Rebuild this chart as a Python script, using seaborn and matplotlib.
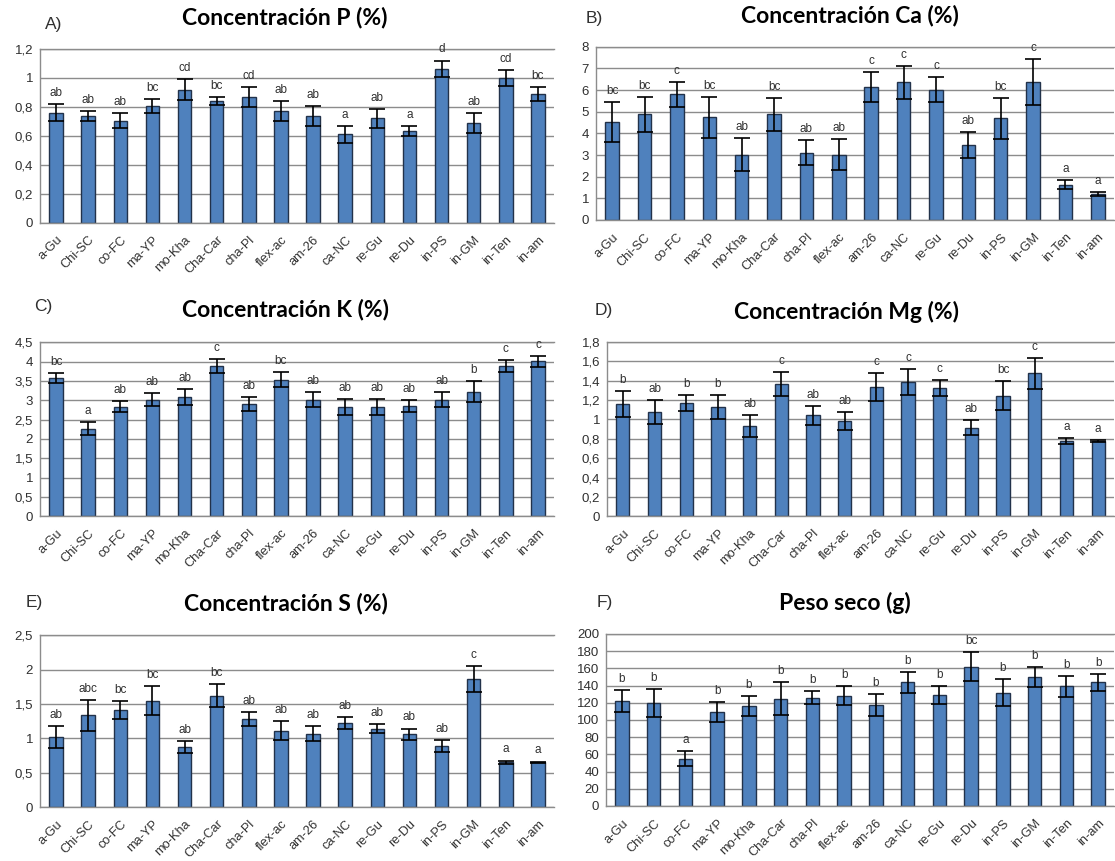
import numpy as np
import matplotlib
matplotlib.use("Agg")
import matplotlib.pyplot as plt
from matplotlib.ticker import FuncFormatter
import seaborn as sns

# Treatments (x axis, shared by every panel)
categories = ["a-Gu", "Chi-SC", "co-FC", "ma-YP", "mo-Kha", "Cha-Car", "cha-Pl", "flex-ac",
              "am-26", "ca-NC", "re-Gu", "re-Du", "in-PS", "in-GM", "in-Ten", "in-am"]

# A) phosphorus concentration (%)
p_mean = [0.76, 0.735, 0.705, 0.805, 0.92, 0.84, 0.87, 0.77, 0.735, 0.61, 0.72, 0.633, 1.065, 0.69, 1.0, 0.892]
p_err = [0.057, 0.035, 0.05, 0.05, 0.075, 0.03, 0.07, 0.07, 0.07, 0.058, 0.065, 0.037, 0.055, 0.07, 0.053, 0.048]
p_letters = ["ab", "ab", "ab", "bc", "cd", "bc", "cd", "ab", "ab", "a", "ab", "a", "d", "ab", "cd", "bc"]

# B) calcium concentration (%)
ca_mean = [4.54, 4.88, 5.80, 4.74, 3.01, 4.88, 3.10, 3.01, 6.12, 6.36, 6.02, 3.46, 4.69, 6.36, 1.62, 1.21]
ca_err = [0.92, 0.81, 0.57, 0.95, 0.77, 0.76, 0.58, 0.72, 0.69, 0.76, 0.57, 0.60, 0.95, 1.06, 0.21, 0.09]
ca_letters = ["bc", "bc", "c", "bc", "ab", "bc", "ab", "ab", "c", "c", "c", "ab", "bc", "c", "a", "a"]

# C) potassium concentration (%)
k_mean = [3.58, 2.26, 2.83, 3.02, 3.09, 3.89, 2.91, 3.53, 3.02, 2.83, 2.83, 2.85, 3.02, 3.22, 3.89, 4.01]
k_err = [0.12, 0.17, 0.14, 0.16, 0.21, 0.18, 0.18, 0.19, 0.19, 0.21, 0.21, 0.16, 0.19, 0.27, 0.15, 0.14]
k_letters = ["bc", "a", "ab", "ab", "ab", "c", "ab", "bc", "ab", "ab", "ab", "ab", "ab", "b", "c", "c"]

# D) magnesium concentration (%)
mg_mean = [1.163, 1.077, 1.173, 1.129, 0.929, 1.366, 1.043, 0.984, 1.335, 1.39, 1.325, 0.915, 1.246, 1.476, 0.778, 0.778]
mg_err = [0.134, 0.124, 0.083, 0.127, 0.114, 0.127, 0.10, 0.093, 0.141, 0.134, 0.082, 0.076, 0.151, 0.159, 0.028, 0.01]
mg_letters = ["b", "ab", "b", "b", "ab", "c", "ab", "ab", "c", "c", "c", "ab", "bc", "c", "a", "a"]

# E) sulphur concentration (%)
s_mean = [1.017, 1.334, 1.411, 1.545, 0.873, 1.622, 1.276, 1.113, 1.07, 1.219, 1.142, 1.056, 0.888, 1.867, 0.653, 0.648]
s_err = [0.16, 0.226, 0.134, 0.21, 0.086, 0.173, 0.10, 0.144, 0.106, 0.086, 0.062, 0.086, 0.086, 0.187, 0.024, 0.014]
s_letters = ["ab", "abc", "bc", "bc", "ab", "bc", "ab", "ab", "ab", "ab", "ab", "ab", "ab", "c", "a", "a"]

# F) dry weight (g)
dw_mean = [122.2, 119.9, 55.2, 109.2, 116.5, 124.9, 126.1, 128.4, 117.6, 143.7, 129.1, 161.7, 131.8, 149.8, 139.1, 143.7]
dw_err = [13.0, 16.5, 8.4, 11.9, 11.5, 19.5, 8.0, 10.7, 12.7, 11.9, 10.4, 16.8, 15.3, 11.5, 11.9, 9.6]
dw_letters = ["b", "b", "a", "b", "b", "b", "b", "b", "b", "b", "b", "bc", "b", "b", "b", "b"]

titles = ["Concentración P (%)", "Concentración Ca (%)", "Concentración K (%)",
          "Concentración Mg (%)", "Concentración S (%)", "Peso seco (g)"]
tags = ["A)", "B)", "C)", "D)", "E)", "F)"]
y_max = [1.2, 8, 4.5, 1.8, 2.5, 200]
y_step = [0.2, 1, 0.5, 0.2, 0.5, 20]

panels = [
    (p_mean, p_err, p_letters),
    (ca_mean, ca_err, ca_letters),
    (k_mean, k_err, k_letters),
    (mg_mean, mg_err, mg_letters),
    (s_mean, s_err, s_letters),
    (dw_mean, dw_err, dw_letters),
]

W, H = 1115, 861
# axes boxes in pixels: left, top, right, bottom
boxes = [
    (40, 49, 554, 222.7),
    (596, 46.7, 1114, 220),
    (40, 342.3, 554, 516.3),
    (607, 342, 1114, 516.3),
    (40, 635.3, 554, 807),
    (606, 634, 1114, 806),
]
# title centre (x, y) and tag centre (x, y) in pixels
title_pos = [(285, 17), (850, 15), (285, 310), (847, 312), (286, 603), (845, 603)]
tag_pos = [(54, 25), (594, 19), (43, 306), (604, 311), (34, 603), (605, 603)]

sns.set_style("white")
plt.rcParams["font.family"] = ["Liberation Sans", "DejaVu Sans"]

BAR = "#4F81BD"
BAR_EDGE = "#22324a"
GRID = "#8c8c8c"
TEXT = "#303030"


def comma_fmt(v, _pos=None):
    s = f"{v:.1f}"
    if s.endswith(".0"):
        s = s[:-2]
    return s.replace(".", ",")


fig = plt.figure(figsize=(W / 100, H / 100), dpi=100)
fig.patch.set_facecolor("white")

for i, ((mean, err, letters), box) in enumerate(zip(panels, boxes)):
    l, t, r, b = box
    ax = fig.add_axes([l / W, 1 - b / H, (r - l) / W, (b - t) / H])
    sns.barplot(x=categories, y=mean, ax=ax, color=BAR, saturation=1,
                edgecolor=BAR_EDGE, linewidth=1.0, width=0.42, errorbar=None)
    xs = np.arange(len(categories))
    ax.errorbar(xs, mean, yerr=err, fmt="none", ecolor="black",
                elinewidth=1.2, capsize=5.5, capthick=1.2, zorder=4)
    for x, m, e, lab in zip(xs, mean, err, letters):
        ax.annotate(lab, xy=(x, m + e), xytext=(0, 8), textcoords="offset points",
                    ha="center", va="center", fontsize=8.5, color=TEXT)

    ax.set_xlim(-0.5, len(categories) - 0.5)
    ax.set_ylim(0, y_max[i])
    ax.set_yticks(np.arange(0, y_max[i] + y_step[i] / 2, y_step[i]))
    ax.yaxis.set_major_formatter(FuncFormatter(comma_fmt))
    ax.yaxis.grid(True, color=GRID, linewidth=1.0)
    ax.set_axisbelow(True)
    ax.tick_params(axis="both", length=0, colors=TEXT)
    ax.tick_params(axis="y", pad=5, labelsize=9.5)
    ax.tick_params(axis="x", pad=8, labelsize=9.2)
    for lab in ax.get_xticklabels():
        lab.set_rotation(45)
        lab.set_ha("right")
        lab.set_rotation_mode("anchor")
    ax.set_xlabel("")
    ax.set_ylabel("")
    for side in ("left", "top", "bottom"):
        ax.spines[side].set_color(GRID)
        ax.spines[side].set_linewidth(1.0)
    ax.spines["right"].set_visible(False)

    tx, ty = title_pos[i]
    fig.text(tx / W, 1 - ty / H, titles[i], ha="center", va="center",
             fontsize=16.5, fontweight="bold", family=["Lato", "DejaVu Sans"], color="black")
    gx, gy = tag_pos[i]
    fig.text(gx / W, 1 - gy / H, tags[i], ha="center", va="center",
             fontsize=12.5, color=TEXT)

fig.savefig("out.png", dpi=100, facecolor="white")
